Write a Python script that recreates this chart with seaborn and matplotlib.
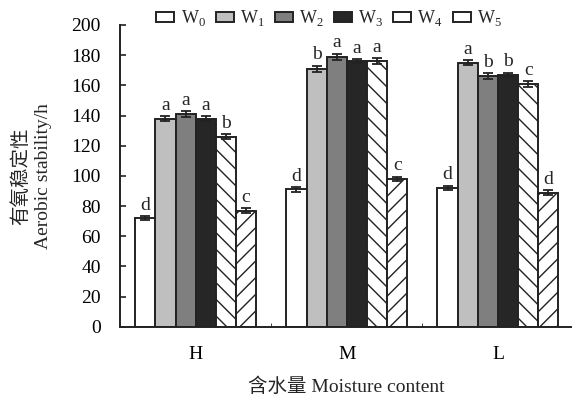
import numpy as np
import pandas as pd
import matplotlib
matplotlib.use('Agg')
import matplotlib.pyplot as plt
import seaborn as sns

groups = ['H', 'M', 'L']
treatments = ['W0', 'W1', 'W2', 'W3', 'W4', 'W5']
values = {
    'W0': [72, 91, 92],
    'W1': [138, 171, 175],
    'W2': [141, 179, 166],
    'W3': [138, 176, 167],
    'W4': [126, 176, 161],
    'W5': [77, 98, 89],
}
errors = {
    'W0': [1.5, 1.8, 1.6],
    'W1': [1.8, 2.0, 1.8],
    'W2': [2.0, 2.0, 2.0],
    'W3': [1.5, 1.5, 1.5],
    'W4': [1.5, 1.8, 2.0],
    'W5': [1.8, 1.5, 1.5],
}
letters = {
    'W0': ['d', 'd', 'd'],
    'W1': ['a', 'b', 'a'],
    'W2': ['a', 'a', 'b'],
    'W3': ['a', 'a', 'b'],
    'W4': ['b', 'a', 'c'],
    'W5': ['c', 'c', 'd'],
}
fills = ['white', '#bfbfbf', '#7f7f7f', '#262626', 'white', 'white']
hatches = ['', '', '', '', '\\\\', '//']

rows = []
for t in treatments:
    for g, v in zip(groups, values[t]):
        rows.append({'group': g, 'treat': t, 'value': v})
df = pd.DataFrame(rows)

sns.set_style('ticks')
plt.rcParams['font.family'] = ['Liberation Serif', 'Noto Sans CJK SC']
plt.rcParams['mathtext.fontset'] = 'custom'
plt.rcParams['mathtext.rm'] = 'Liberation Serif'
plt.rcParams['hatch.linewidth'] = 1.0

fig = plt.figure(figsize=(5.72, 4.03), dpi=100)
ax = fig.add_axes([0.21, 0.189, 0.79, 0.749])

sns.barplot(data=df, x='group', y='value', hue='treat', order=groups,
            hue_order=treatments, errorbar=None, width=0.8, ax=ax,
            edgecolor='#222222', linewidth=1.4, legend=False)

for i, t in enumerate(treatments):
    cont = ax.containers[i]
    for j, p in enumerate(cont.patches):
        p.set_facecolor(fills[i])
        p.set_hatch(hatches[i])
        cx = p.get_x() + p.get_width() / 2
        h = p.get_height()
        ax.errorbar(cx, h, yerr=errors[t][j], fmt='none', ecolor='#222222',
                    elinewidth=1.3, capsize=3.5, capthick=1.3)
        ax.text(cx, h + errors[t][j] + 1.5, letters[t][j], ha='center',
                va='bottom', fontsize=14)

handles = [matplotlib.patches.Patch(facecolor=fills[i], edgecolor='#222222',
                                    hatch='', linewidth=1.4,
                                    label='W$_{%d}$' % i) for i in range(6)]
fig.legend(handles=handles, loc='upper left', bbox_to_anchor=(0.245, 1.02),
           ncol=6, frameon=False, fontsize=13, handlelength=1.0,
           handleheight=0.5, handletextpad=0.35, columnspacing=0.55)

ax.set_ylim(0, 200)
ax.set_yticks(range(0, 201, 20))
ax.set_xlim(-0.5, 2.49)
ax.set_xticks([0.5, 1.5], minor=True)
ax.tick_params(axis='both', direction='in', labelsize=14, width=1.2, length=4,
               colors='#222222', labelcolor='black')
ax.tick_params(axis='y', pad=14)
ax.tick_params(axis='x', which='major', length=0, pad=14)
ax.tick_params(axis='x', which='minor', direction='in', length=3)
for s in ['top', 'right']:
    ax.spines[s].set_visible(False)
for s in ['left', 'bottom']:
    ax.spines[s].set_linewidth(1.4)
    ax.spines[s].set_color('#222222')

ax.set_xlabel('含水量 Moisture content', fontsize=14, labelpad=10)
ax.set_ylabel('有氧稳定性\nAerobic stability/h', fontsize=14, labelpad=14,
              linespacing=1.35)

fig.savefig('out.png', dpi=100)
